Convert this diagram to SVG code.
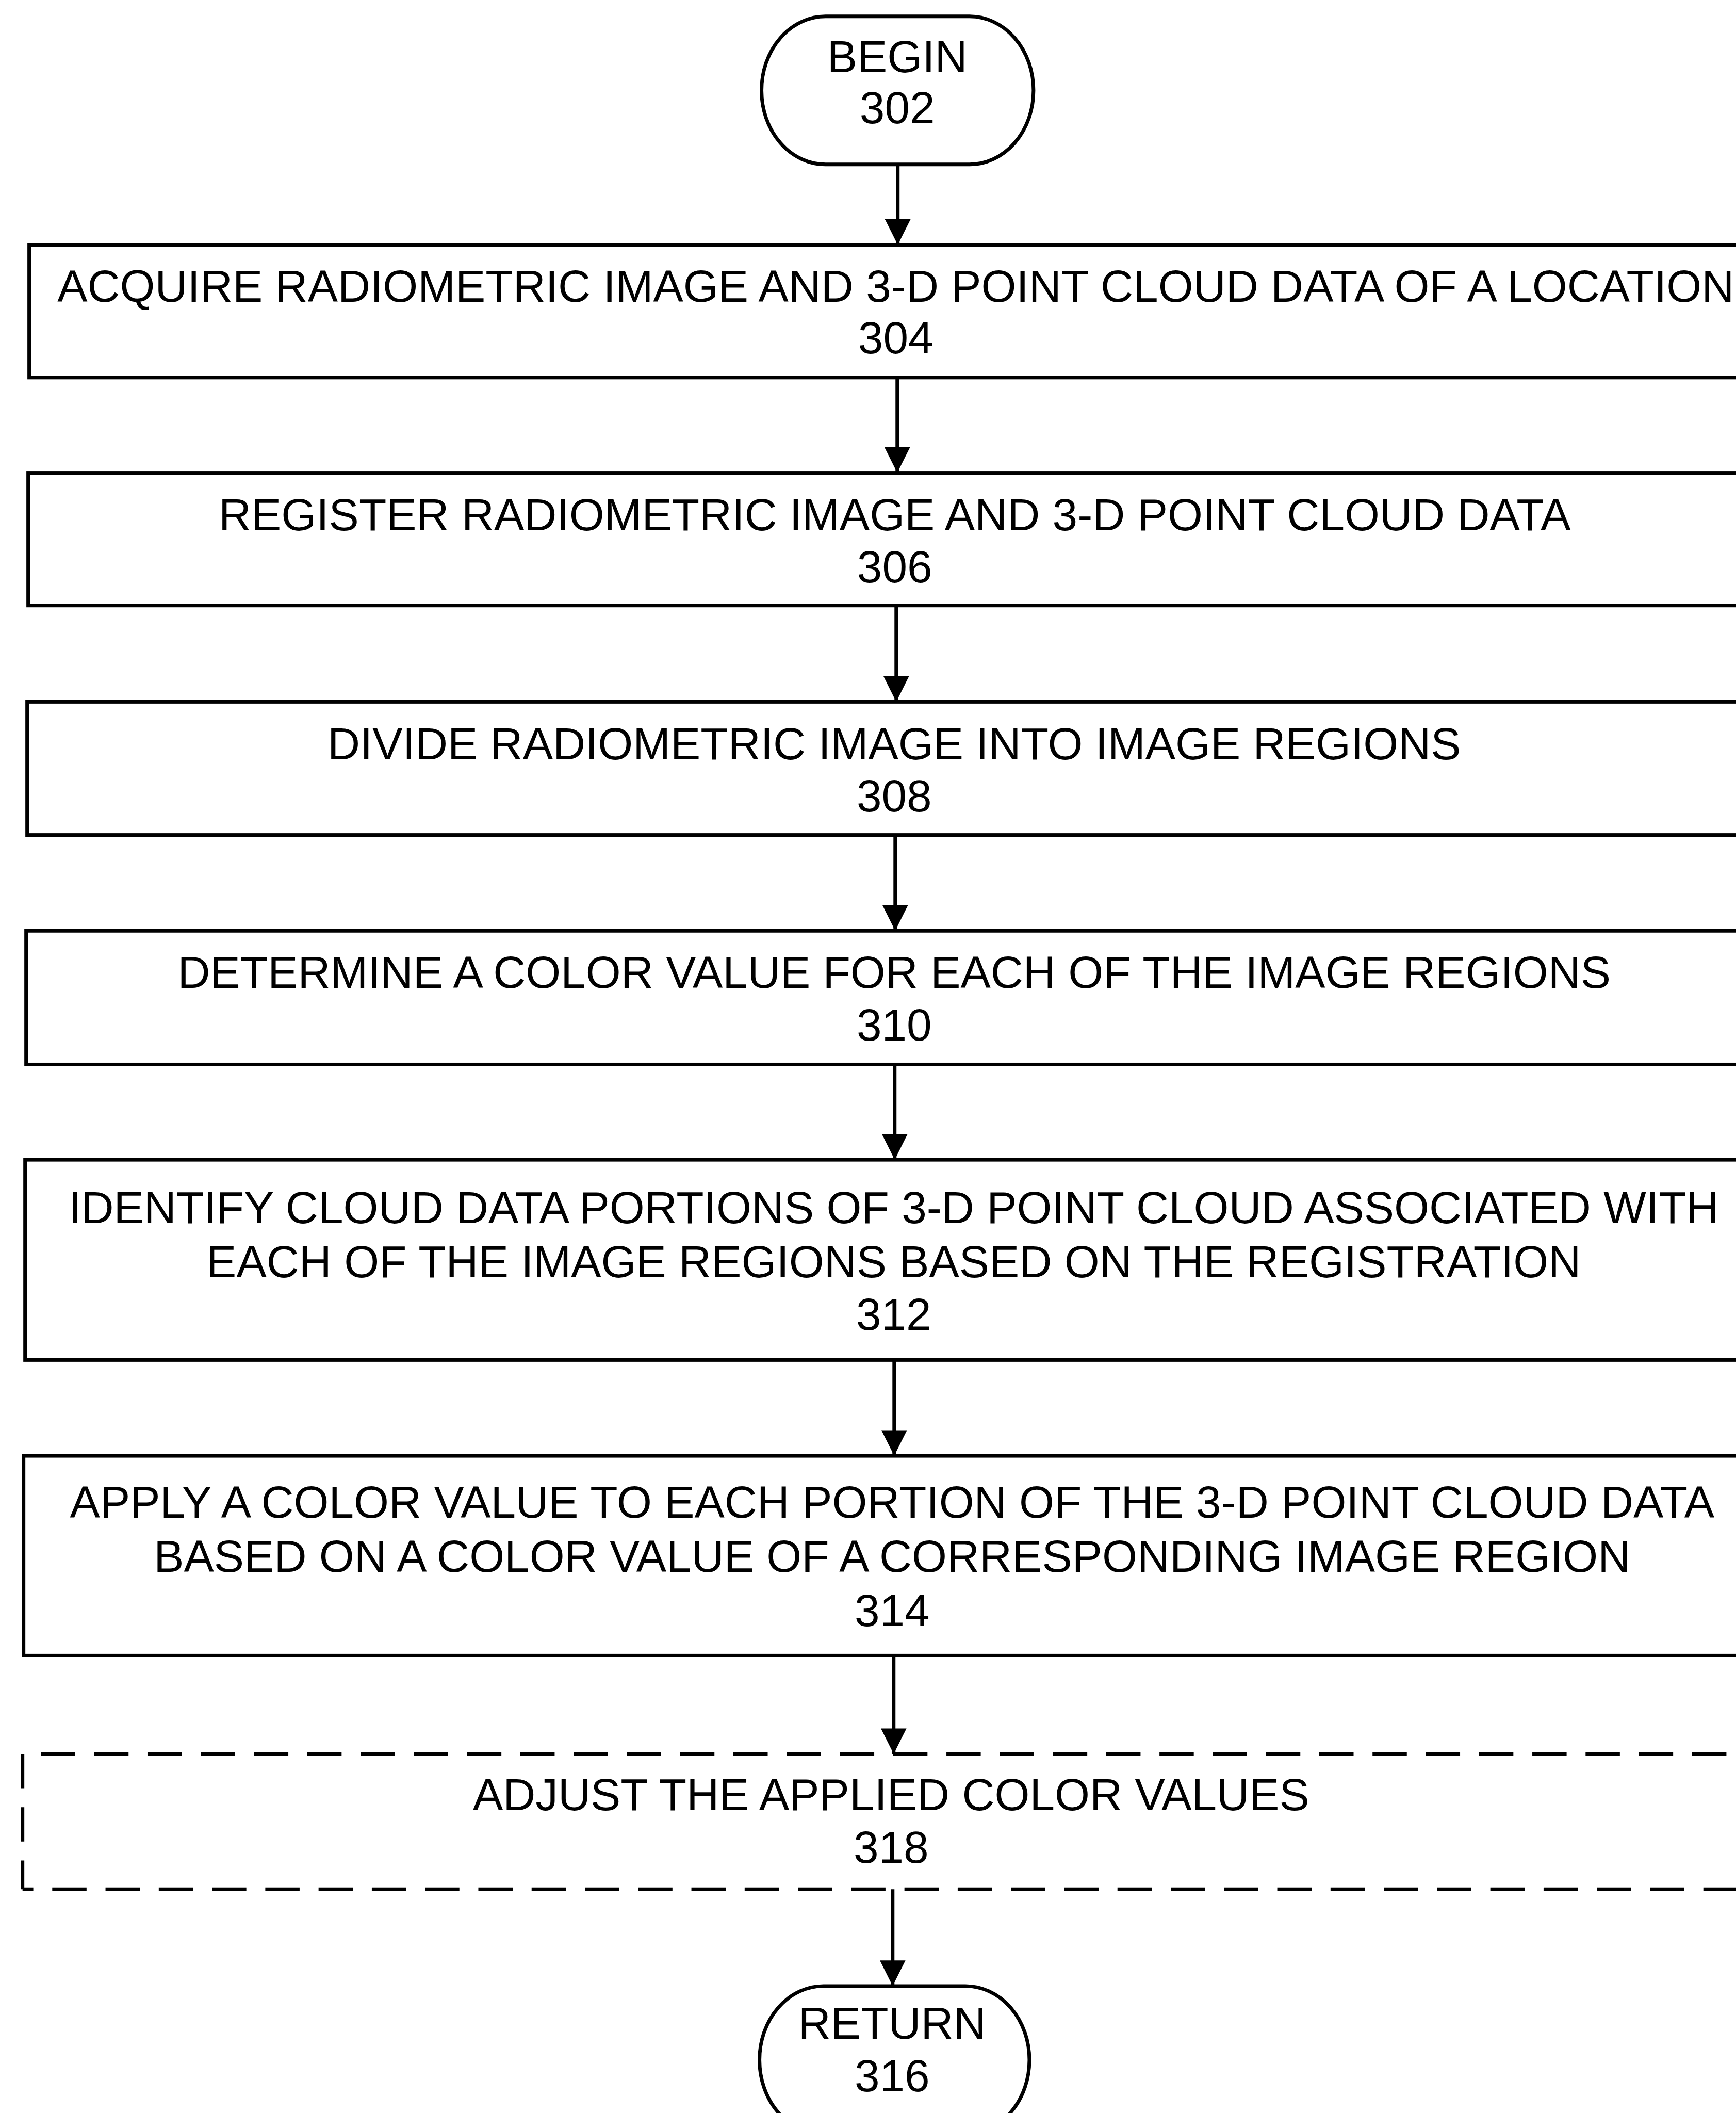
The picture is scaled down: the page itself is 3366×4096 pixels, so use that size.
<svg xmlns="http://www.w3.org/2000/svg" width="3366" height="4096" viewBox="0 0 3366 4096">
<defs>
<style>
.box{fill:none;stroke:#000;stroke-width:7}
.term{fill:none;stroke:#000;stroke-width:7}
.dash{fill:none;stroke:#000;stroke-width:7;stroke-dasharray:67 37}
.conn{fill:none;stroke:#000;stroke-width:7}
.t{font-family:"Liberation Sans",Arial,sans-serif;font-size:88px;text-anchor:middle;fill:#000}
</style>
<marker id="ah" markerUnits="userSpaceOnUse" markerWidth="52" markerHeight="52" refX="25" refY="50" orient="0" viewBox="0 0 52 52">
<path d="M0,0 L50,0 L25,50 Z" fill="#000"/>
</marker>
</defs>
<rect width="3366" height="4096" fill="#fff"/>
<g transform="scale(0.993)">
<g id="connectors">
<line class="conn" x1="1753" y1="321" x2="1753" y2="478" marker-end="url(#ah)"/>
<line class="conn" x1="1752" y1="737" x2="1752" y2="923" marker-end="url(#ah)"/>
<line class="conn" x1="1750" y1="1182" x2="1750" y2="1370" marker-end="url(#ah)"/>
<line class="conn" x1="1748" y1="1630" x2="1748" y2="1817" marker-end="url(#ah)"/>
<line class="conn" x1="1747" y1="2078" x2="1747" y2="2264" marker-end="url(#ah)"/>
<line class="conn" x1="1746" y1="2655" x2="1746" y2="2842" marker-end="url(#ah)"/>
<line class="conn" x1="1745" y1="3232" x2="1745" y2="3424" marker-end="url(#ah)"/>
<line class="conn" x1="1743" y1="3688" x2="1743" y2="3877" marker-end="url(#ah)"/>
</g>
<g id="n302">
<rect class="term" x="1487" y="32" width="531" height="289" rx="125" ry="144"/>
<text class="t" x="1752" y="141">BEGIN</text>
<text class="t" x="1752" y="241">302</text>
</g>
<g id="n304">
<rect class="box" x="57" y="478" width="3400" height="259"/>
<text class="t" x="1749" y="589">ACQUIRE RADIOMETRIC IMAGE AND 3-D POINT CLOUD DATA OF A LOCATION</text>
<text class="t" x="1749" y="690">304</text>
</g>
<g id="n306">
<rect class="box" x="55" y="923" width="3400" height="259"/>
<text class="t" x="1747" y="1035">REGISTER RADIOMETRIC IMAGE AND 3-D POINT CLOUD DATA</text>
<text class="t" x="1747" y="1137">306</text>
</g>
<g id="n308">
<rect class="box" x="53" y="1370" width="3400" height="260"/>
<text class="t" x="1746" y="1482">DIVIDE RADIOMETRIC IMAGE INTO IMAGE REGIONS</text>
<text class="t" x="1746" y="1584">308</text>
</g>
<g id="n310">
<rect class="box" x="51" y="1817" width="3400" height="261"/>
<text class="t" x="1746" y="1929">DETERMINE A COLOR VALUE FOR EACH OF THE IMAGE REGIONS</text>
<text class="t" x="1746" y="2031">310</text>
</g>
<g id="n312">
<rect class="box" x="49" y="2264" width="3400" height="391"/>
<text class="t" x="1745" y="2388">IDENTIFY CLOUD DATA PORTIONS OF 3-D POINT CLOUD ASSOCIATED WITH</text>
<text class="t" x="1745" y="2493">EACH OF THE IMAGE REGIONS BASED ON THE REGISTRATION</text>
<text class="t" x="1745" y="2596">312</text>
</g>
<g id="n314">
<rect class="box" x="46" y="2842" width="3400" height="390"/>
<text class="t" x="1742" y="2963">APPLY A COLOR VALUE TO EACH PORTION OF THE 3-D POINT CLOUD DATA</text>
<text class="t" x="1742" y="3068">BASED ON A COLOR VALUE OF A CORRESPONDING IMAGE REGION</text>
<text class="t" x="1742" y="3174">314</text>
</g>
<g id="n318">
<line class="dash" x1="44" y1="3424" x2="44" y2="3688"/>
<line class="dash" x1="80" y1="3424" x2="3460" y2="3424"/>
<line class="dash" x1="44" y1="3688" x2="3460" y2="3688" stroke-dashoffset="46"/>
<text class="t" x="1740" y="3534">ADJUST THE APPLIED COLOR VALUES</text>
<text class="t" x="1740" y="3636">318</text>
</g>
<g id="n316">
<rect class="term" x="1483" y="3877" width="527" height="289" rx="125" ry="144"/>
<text class="t" x="1742" y="3980">RETURN</text>
<text class="t" x="1742" y="4083">316</text>
</g>
</g>
</svg>
